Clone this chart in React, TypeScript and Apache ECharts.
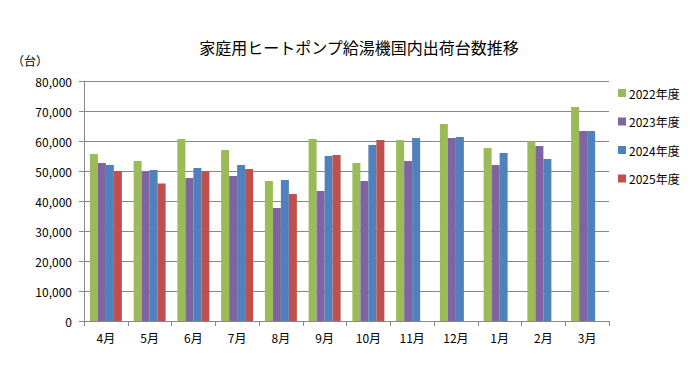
import React, { useEffect, useRef } from "react";
import * as echarts from "echarts";

const title = "家庭用ヒートポンプ給湯機国内出荷台数推移";
const unitLabel = "（台）";
const months = ["4月", "5月", "6月", "7月", "8月", "9月", "10月", "11月", "12月", "1月", "2月", "3月"];
const fy2022 = [55700, 53300, 60700, 57000, 46700, 60700, 52700, 60300, 65700, 57700, 59800, 71300];
const fy2023 = [52700, 49900, 47700, 48300, 37700, 43300, 46700, 53300, 61000, 52000, 58300, 63300];
const fy2024 = [52000, 50300, 51000, 52000, 47000, 55000, 58700, 61000, 61300, 56000, 54000, 63300];
const fy2025 = [50000, 45800, 49900, 50700, 42300, 55300, 60300, null, null, null, null, null];
const seriesNames = ["2022年度", "2023年度", "2024年度", "2025年度"];
const colors = ["#9BBB59", "#8064A2", "#4F81BD", "#C0504D"];

const FONT = "'Noto Sans CJK JP', 'Noto Sans', sans-serif";

export default function App() {
  const ref = useRef<HTMLDivElement>(null);
  useEffect(() => {
    if (!ref.current) return;
    const chart = echarts.init(ref.current, undefined, { renderer: "svg" });
    const data = [fy2022, fy2023, fy2024, fy2025];
    chart.setOption({
      animation: false,
      textStyle: { fontFamily: FONT },
      title: {
        text: title,
        left: 354,
        top: 34,
        textAlign: "center",
        textStyle: { fontSize: 16, fontWeight: "normal", color: "#000", fontFamily: FONT },
      },
      graphic: [
        {
          type: "text",
          left: 12,
          top: 54,
          style: { text: unitLabel, fontSize: 12, fill: "#000", fontFamily: FONT },
        },
      ],
      legend: {
        orient: "vertical",
        left: 613,
        top: 82,
        itemWidth: 8,
        itemHeight: 8,
        itemGap: 16.5,
        icon: "rect",
        textStyle: { fontSize: 12, color: "#000", fontFamily: FONT, padding: [0, 0, 0, -2] },
        data: seriesNames,
      },
      grid: { left: 84, right: 91, top: 81, bottom: 57, containLabel: false },
      xAxis: {
        type: "category",
        data: months,
        axisLine: { lineStyle: { color: "#888", width: 1 } },
        axisTick: { show: true, length: 5, lineStyle: { color: "#888" } },
        axisLabel: { color: "#000", fontSize: 12, margin: 10, fontFamily: FONT },
      },
      yAxis: {
        type: "value",
        min: 0,
        max: 80000,
        interval: 10000,
        axisLine: { show: true, lineStyle: { color: "#888", width: 1 } },
        axisTick: { show: true, length: 5, lineStyle: { color: "#888" } },
        splitLine: { lineStyle: { color: "#888", width: 1 } },
        axisLabel: {
          color: "#000",
          fontSize: 12,
          margin: 12,
          fontFamily: FONT,
          formatter: (v: number) => v.toLocaleString("en-US"),
        },
      },
      series: seriesNames.map((name, i) => ({
        name,
        type: "bar",
        data: data[i],
        barWidth: 8,
        barGap: "0%",
        barCategoryGap: "27%",
        itemStyle: { color: colors[i] },
      })),
    });
    return () => chart.dispose();
  }, []);
  return <div ref={ref} style={{ width: 700, height: 378, position: "absolute", left: 0, top: 0, background: "#fff" }} />;
}
